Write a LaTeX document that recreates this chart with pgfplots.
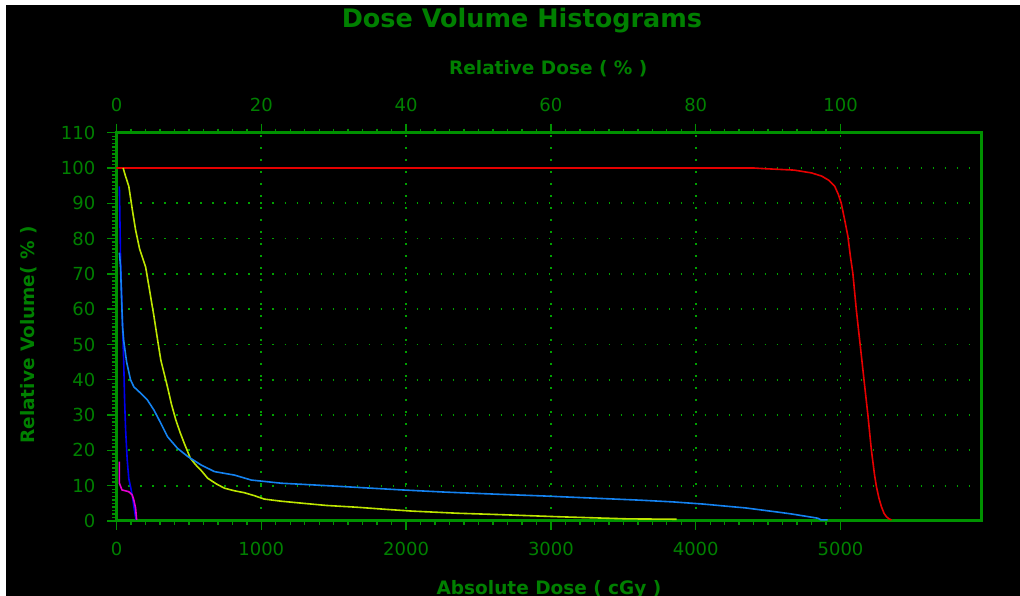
\documentclass[border=0pt]{standalone}
\usepackage{pgfplots}
\pgfplotsset{compat=1.18}
\usepackage{fontspec}
\setmainfont{DejaVu Sans}
\definecolor{txtgreen}{RGB}{0,128,0}
\definecolor{axgreen}{RGB}{0,145,0}
\definecolor{gridgreen}{RGB}{0,160,0}
\definecolor{dvhred}{RGB}{230,0,0}
\definecolor{dvhyellow}{RGB}{190,230,0}
\definecolor{dvhblue}{RGB}{20,130,240}
\definecolor{dvhdblue}{RGB}{0,0,240}
\definecolor{dvhmag}{RGB}{230,0,210}
\pgfplotsset{
  dvhbase/.style={
    anchor=south west, scale only axis,
    width=864.5pt, height=388.3pt,
    ymin=0, ymax=110,
    tick align=outside,
    major tick length=9pt, minor tick length=4pt,
    every tick/.style={axgreen, line width=1.4pt},
    axis line style={axgreen, line width=3pt},
    ticklabel style={font=\fontsize{18}{20}\selectfont, text=txtgreen, inner sep=0pt},
    /pgf/number format/assume math mode=true,
    /pgf/number format/1000 sep={},
    scaled ticks=false,
    label style={font=\fontsize{18.5}{21}\selectfont\bfseries, text=txtgreen},
  }
}
\begin{document}
\begin{tikzpicture}
\useasboundingbox (-116.5pt,-75pt) rectangle (903.5pt,521pt);
\fill[white] (-116.5pt,-75pt) rectangle (903.5pt,521pt);
\fill[black] (-110.5pt,-75pt) rectangle (903.5pt,516pt);
% top axis (relative dose)
\begin{axis}[dvhbase,
  xmin=0, xmax=119.4,
  axis x line*=top, axis y line=none,
  xtick={0,20,40,60,80,100}, minor x tick num=9,
  xticklabel style={anchor=south, yshift=12pt},
  xlabel={Relative Dose ( \% )},
  xlabel style={at={(axis description cs:0.4994,1.150)}, anchor=base},
]
\addplot[draw=none] coordinates {(0,0)};
\end{axis}
% main axis
\begin{axis}[dvhbase,
  xmin=0, xmax=5970,
  xtick pos=left, ytick pos=left,
  xtick={0,1000,2000,3000,4000,5000},
  ytick={0,10,...,110},
  minor x tick num=9, minor y tick num=9,
  grid=major,
  major grid style={gridgreen, line width=1.8pt, dash pattern=on 1.8pt off 10.2pt},
  xticklabel style={anchor=north, yshift=-12pt},
  yticklabel style={anchor=east, xshift=-12pt},
  title={Dose Volume Histograms},
  title style={at={(axis description cs:0.469,1.2714)}, anchor=base, yshift=-6pt, font=\fontsize{25.5}{28}\selectfont\bfseries, text=txtgreen},
  xlabel={Absolute Dose ( cGy )},
  xlabel style={at={(axis description cs:0.5003,-0.1893)}, anchor=base},
  ylabel={Relative Volume( \% )},
  ylabel style={at={(axis description cs:-0.0949,0.479)}, anchor=base, rotate=0},
]
% PTV (red)
\addplot[dvhred, line width=1.6pt, no markers] coordinates {
(0,100)(4400,100)(4480,99.8)(4680,99.4)(4800,98.6)(4870,97.7)(4920,96.5)(4960,94.8)
(4985,92.5)(5005,90)(5030,85)(5051,80.6)(5068,75)(5085,70.2)(5109,59.8)(5137,49.4)
(5162,40)(5190,29.6)(5213,20.1)(5235,13)(5248,9.7)(5265,6.5)(5282,4.1)(5300,2.2)
(5317,1.2)(5335,0.6)(5352,0.3)
};
% yellow-green
\addplot[dvhyellow, line width=1.6pt, no markers] coordinates {
(46,100)(60,98)(85,94.8)(110,88)(132,82.4)(160,77)(201,72)(230,65)(259,57.9)(285,51)
(306,45.6)(352,38)(380,33)(410,28.6)(440,25)(468,22)(510,17.8)(545,16)(583,14.4)
(630,12.1)(690,10.5)(745,9.3)(810,8.6)(884,8)(950,7.2)(1021,6.2)(1139,5.6)(1292,5.0)
(1451,4.4)(1660,3.9)(1861,3.3)(2042,2.8)(2354,2.2)(2653,1.8)(3056,1.2)(3535,0.6)(3868,0.5)
};
% dark blue
\addplot[dvhdblue, line width=1.6pt, no markers] coordinates {
(20,94.8)(28,74)(35,65)(42,55)(50,45)(56,34)(63,25.8)(74,17.3)(85,12)(97,9.7)
(110,7)(120,4.1)(130,1.5)(136,0.3)
};
% light blue
\addplot[dvhblue, line width=1.6pt, no markers] coordinates {
(20,76)(28,72)(35,63)(42,55)(50,51)(70,45)(97,40)(120,38)(167,36.2)(213,34.3)
(259,31.4)(306,27.7)(352,23.9)(421,20.6)(491,18.3)(583,15.9)(676,14)(815,13.0)
(931,11.6)(1139,10.7)(1278,10.4)(1500,9.9)(1972,8.8)(2262,8.2)(2620,7.6)(2944,7.1)
(3280,6.5)(3616,5.9)(3847,5.4)(4051,4.8)(4210,4.2)(4345,3.7)(4458,3.1)(4571,2.5)
(4661,2.0)(4751,1.4)(4842,0.8)(4866,0.3)(4910,0.3)
};
% magenta
\addplot[dvhmag, line width=1.6pt, no markers] coordinates {
(20,16.8)(20,10.7)(38,8.8)(85,8.3)(108,7.4)(120,5.9)(132,3.6)(139,0.3)
};
\end{axis}
\end{tikzpicture}
\end{document}
